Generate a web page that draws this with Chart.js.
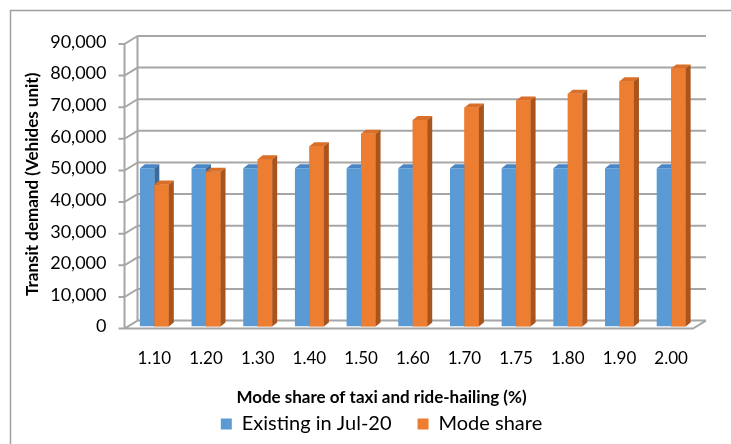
<!DOCTYPE html>
<html>
<head>
<meta charset="utf-8">
<script src="https://cdn.jsdelivr.net/npm/chart.js@4.4.0/dist/chart.umd.min.js"></script>
<style>
  html, body { margin: 0; padding: 0; background: #fff; }
  #wrap { width: 731px; height: 444px; }
</style>
</head>
<body>
<div id="wrap"><canvas id="demandChart" width="731" height="444"></canvas></div>
<script>
// mode share of taxi and ride-hailing (%)
const categories = ["1.10", "1.20", "1.30", "1.40", "1.50", "1.60", "1.70", "1.75", "1.80", "1.90", "2.00"];
// transit demand, vehicles
const existingJul20 = [50100, 50100, 50100, 50100, 50100, 50100, 50100, 50100, 50100, 50100, 50100];
const modeShare = [44900, 49000, 52900, 57000, 61000, 65300, 69300, 71500, 73600, 77600, 81600];
const yTicks = [0, 10000, 20000, 30000, 40000, 50000, 60000, 70000, 80000, 90000];

const BLUE = "#5b9bd5", BLUE_TOP = "#4a86c4", BLUE_SIDE = "#3a6a9c";
const ORANGE = "#ed7d31", ORANGE_TOP = "#d96f28", ORANGE_SIDE = "#a9541c";
const GRID = "#a6a6a6";

// back wall sits up-right of the bars, front edge down-left
const back = { x: 9, y: -6 };
const front = { x: -4, y: 2 };

const framePlugin = {
    id: "frame",
    beforeDraw(chart) {
        const ctx = chart.ctx;
        ctx.save();
        ctx.fillStyle = "#fff";
        ctx.fillRect(0, 0, chart.width, chart.height);
        ctx.strokeStyle = "#a0a0a0";
        ctx.lineWidth = 1.5;
        ctx.strokeRect(10.5, 10.5, 760, 460);
        ctx.restore();
    }
};

const wallsPlugin = {
    id: "walls",
    beforeDatasetsDraw(chart) {
        const ctx = chart.ctx;
        const { left, right, top, bottom } = chart.chartArea;
        const y = chart.scales.y;
        ctx.save();
        ctx.strokeStyle = GRID;
        ctx.lineWidth = 2;
        ctx.beginPath();
        y.ticks.forEach(t => {
            const py = y.getPixelForValue(t.value);
            // back wall line
            ctx.moveTo(left + back.x, py + back.y);
            ctx.lineTo(right + back.x, py + back.y);
            // side wall diagonal
            ctx.moveTo(left + front.x - 6, py + front.y);
            ctx.lineTo(left + front.x, py + front.y);
            ctx.lineTo(left + back.x, py + back.y);
        });
        // left edges
        ctx.moveTo(left + front.x, top + front.y);
        ctx.lineTo(left + front.x, bottom + front.y);
        ctx.moveTo(left + back.x, top + back.y);
        ctx.lineTo(left + back.x, bottom + back.y);
        // floor
        ctx.moveTo(left + front.x, bottom + front.y);
        ctx.lineTo(right + front.x, bottom + front.y);
        ctx.lineTo(right + back.x, bottom + back.y);
        ctx.stroke();
        ctx.restore();
    }
};

function drawFaces(ctx, el, topColor, sideColor) {
    const p = el.getProps(["x", "y", "base", "width"], true);
    const x0 = p.x - p.width / 2, x1 = p.x + p.width / 2;
    const dx = 5, dy = -4;
    ctx.fillStyle = topColor;
    ctx.beginPath();
    ctx.moveTo(x0, p.y);
    ctx.lineTo(x0 + dx, p.y + dy);
    ctx.lineTo(x1 + dx, p.y + dy);
    ctx.lineTo(x1, p.y);
    ctx.closePath();
    ctx.fill();
    ctx.fillStyle = sideColor;
    ctx.beginPath();
    ctx.moveTo(x1, p.y);
    ctx.lineTo(x1 + dx, p.y + dy);
    ctx.lineTo(x1 + dx, p.base + dy);
    ctx.lineTo(x1, p.base);
    ctx.closePath();
    ctx.fill();
}

const bars3dPlugin = {
    id: "bars3d",
    afterDatasetsDraw(chart) {
        const ctx = chart.ctx;
        const blue = chart.getDatasetMeta(0);
        const orange = chart.getDatasetMeta(1);
        ctx.save();
        blue.data.forEach(el => drawFaces(ctx, el, BLUE_TOP, BLUE_SIDE));
        // orange front sits in front of the blue side face
        orange.data.forEach(el => el.draw(ctx));
        orange.data.forEach(el => drawFaces(ctx, el, ORANGE_TOP, ORANGE_SIDE));
        ctx.restore();
    }
};

new Chart(document.getElementById("demandChart"), {
    type: "bar",
    data: {
        labels: categories,
        datasets: [
            { label: "Existing in Jul-20", data: existingJul20, backgroundColor: BLUE },
            { label: "Mode share", data: modeShare, backgroundColor: ORANGE }
        ]
    },
    options: {
        responsive: false,
        animation: false,
        datasets: { bar: { categoryPercentage: 0.56, barPercentage: 1.0 } },
        layout: { padding: { left: 32, right: 0, top: 42, bottom: 0 } },
        plugins: {
            tooltip: { enabled: false },
            // x axis title, centred on the whole frame like the original
            title: {
                display: true,
                position: "bottom",
                weight: 500,
                text: "Mode share of taxi and ride-hailing (%)",
                color: "#000",
                font: { family: "Lato", size: 17, weight: "bold" },
                padding: { top: 16, bottom: -20 }
            },
            legend: {
                position: "bottom",
                labels: {
                    color: "#000",
                    font: { family: "Lato", size: 20 },
                    boxWidth: 11,
                    boxHeight: 11,
                    padding: 26
                }
            }
        },
        scales: {
            x: {
                grid: { display: false },
                border: { display: false },
                ticks: { color: "#000", font: { family: "Lato", size: 17 }, padding: 14 },
                afterFit: s => { s.height = 45; }
            },
            y: {
                min: 0,
                max: 90000,
                afterBuildTicks: s => { s.ticks = yTicks.map(v => ({ value: v })); },
                grid: { display: false },
                border: { display: false },
                ticks: {
                    color: "#000",
                    font: { family: "Lato", size: 18 },
                    padding: 14,
                    callback: v => v.toLocaleString("en-US")
                },
                title: {
                    display: true,
                    text: "Transit demand (Vehides unit)",
                    color: "#000",
                    font: { family: "Lato", size: 17, weight: "bold" },
                    padding: { top: -10, bottom: 0 }
                },
                afterFit: s => { s.width = 96.5; }
            },
            yRight: {
                position: "right",
                min: 0,
                max: 90000,
                grid: { display: false },
                border: { display: false },
                ticks: { display: false },
                afterFit: s => { s.width = 34; }
            }
        }
    },
    plugins: [framePlugin, wallsPlugin, bars3dPlugin]
});
</script>
</body>
</html>
